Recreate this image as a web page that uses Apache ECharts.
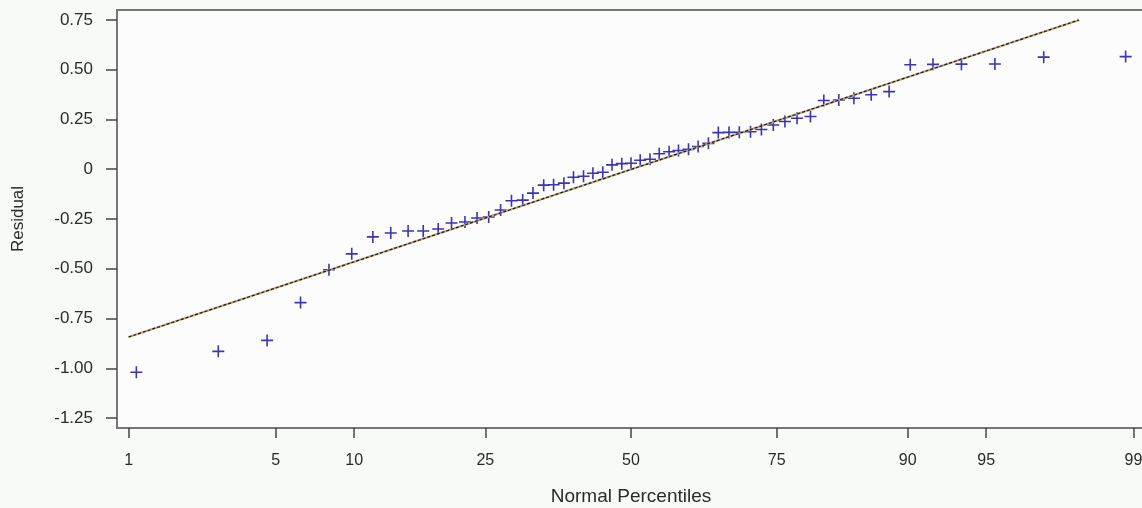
<!DOCTYPE html>
<html>
<head>
<meta charset="utf-8">
<script src="https://cdn.jsdelivr.net/npm/echarts@6/dist/echarts.min.js"></script>
<style>
  html, body { margin: 0; padding: 0; background: #f7faf6; }
  #main { width: 1142px; height: 508px; }
</style>
</head>
<body>
<div id="main"></div>
<script>
// x axis tick labels (normal percentiles) and y axis ticks
const tickPct = [1, 5, 10, 25, 50, 75, 90, 95, 99];
const residTicks = [-1.25, -1, -0.75, -0.5, -0.25, 0, 0.25, 0.5, 0.75];

// percentile of each plotted point
const pointPct = [
  1.1, 2.8, 4.6, 6.3, 8.1, 9.8, 11.6, 13.3, 15.1, 16.8,
  18.6, 20.3, 22.1, 23.8, 25.5, 27.3, 29.0, 30.8, 32.5, 34.3,
  36.0, 37.8, 39.5, 41.3, 43.0, 44.8, 46.5, 48.3, 50.0, 51.7,
  53.5, 55.2, 57.0, 58.7, 60.5, 62.2, 64.0, 65.7, 67.5, 69.2,
  71.0, 72.7, 74.5, 76.2, 77.9, 79.7, 81.4, 83.2, 84.9, 86.7,
  88.4, 90.2, 91.9, 93.7, 95.4, 97.2, 98.9
];
// residual of each point
const residuals = [
  -1.02, -0.915, -0.86, -0.67, -0.505, -0.425, -0.34, -0.32, -0.31, -0.31,
  -0.30, -0.27, -0.265, -0.245, -0.24, -0.205, -0.158, -0.155, -0.12, -0.08,
  -0.078, -0.07, -0.04, -0.035, -0.02, -0.015, 0.022, 0.028, 0.03, 0.045,
  0.05, 0.078, 0.088, 0.094, 0.10, 0.114, 0.13, 0.184, 0.185, 0.186,
  0.188, 0.20, 0.222, 0.24, 0.256, 0.265, 0.345, 0.348, 0.357, 0.374,
  0.39, 0.525, 0.527, 0.528, 0.529, 0.563, 0.566
];
// reference line end points
const fitPct = [1, 98.1];
const fitResid = [-0.843, 0.75];

// inverse normal CDF (Acklam), used as the probability-scale transform
function probit(p) {
  const a = [-39.69683028665376, 220.9460984245205, -275.9285104469687, 138.3577518672690, -30.66479806614716, 2.506628277459239];
  const b = [-54.47609879822406, 161.5858368580409, -155.6989798598866, 66.80131188771972, -13.28068155288572];
  const c = [-0.007784894002430293, -0.3223964580411365, -2.400758277161838, -2.549732539343734, 4.374664141464968, 2.938163982698783];
  const d = [0.007784695709041462, 0.3224671290700398, 2.445134137142996, 3.754408661907416];
  const pl = 0.02425;
  let q, r;
  if (p < pl) {
    q = Math.sqrt(-2 * Math.log(p));
    return (((((c[0]*q+c[1])*q+c[2])*q+c[3])*q+c[4])*q+c[5]) / ((((d[0]*q+d[1])*q+d[2])*q+d[3])*q+1);
  }
  if (p > 1 - pl) {
    q = Math.sqrt(-2 * Math.log(1 - p));
    return -(((((c[0]*q+c[1])*q+c[2])*q+c[3])*q+c[4])*q+c[5]) / ((((d[0]*q+d[1])*q+d[2])*q+d[3])*q+1);
  }
  q = p - 0.5; r = q * q;
  return (((((a[0]*r+a[1])*r+a[2])*r+a[3])*r+a[4])*r+a[5])*q / (((((b[0]*r+b[1])*r+b[2])*r+b[3])*r+b[4])*r+1);
}

const tickZ = tickPct.map(p => probit(p / 100));
const pctLabel = v => {
  let best = 0;
  tickZ.forEach((z, i) => { if (Math.abs(z - v) < Math.abs(tickZ[best] - v)) best = i; });
  return String(tickPct[best]);
};

const points = pointPct.map((p, i) => [probit(p / 100), residuals[i]]);
const fitLine = fitPct.map((p, i) => [probit(p / 100), fitResid[i]]);

const font = 'Liberation Sans, Arial, sans-serif';
const plus = 'path://M5.2,0H6.8V5.2H12V6.8H6.8V12H5.2V6.8H0V5.2H5.2Z';

const chart = echarts.init(document.getElementById('main'));
chart.setOption({
  animation: false,
  backgroundColor: '#f7faf6',
  grid: {
    left: 117, top: 10, width: 1028, height: 418,
    outerBoundsMode: 'none', containLabel: false,
    show: true, backgroundColor: '#fbfcfb', borderColor: '#777', borderWidth: 2
  },
  xAxis: {
    type: 'value', min: -2.38, max: 2.38,
    name: 'Normal Percentiles', nameLocation: 'middle', nameGap: 59,
    nameTextStyle: { fontFamily: font, fontSize: 19, color: '#2a2a2a' },
    axisLine: { onZero: false, lineStyle: { color: '#777', width: 2 } },
    axisTick: { customValues: tickZ, length: 10, lineStyle: { color: '#444', width: 1.5 } },
    axisLabel: { customValues: tickZ, formatter: pctLabel, margin: 25, fontFamily: font, fontSize: 16, color: '#2a2a2a' },
    splitLine: { show: false }
  },
  yAxis: {
    type: 'value', min: -1.3, max: 0.8,
    name: 'Residual', nameLocation: 'middle', nameGap: 90,
    nameTextStyle: { fontFamily: font, fontSize: 17, color: '#2a2a2a' },
    axisLine: { onZero: false, lineStyle: { color: '#777', width: 2 } },
    axisTick: { customValues: residTicks, length: 11, lineStyle: { color: '#444', width: 1.5 } },
    axisLabel: {
      customValues: residTicks, margin: 24, fontFamily: font, fontSize: 17, color: '#2a2a2a',
      padding: [5, 0, 0, 0],
      formatter: v => (Math.abs(v) < 1e-9 ? '0' : v.toFixed(2))
    },
    splitLine: { show: false }
  },
  series: [
    {
      type: 'line', data: fitLine, showSymbol: false, silent: true,
      lineStyle: { color: '#b9a57e', width: 2 }
    },
    {
      type: 'line', data: fitLine, showSymbol: false, silent: true,
      lineStyle: { color: '#1e1a16', width: 1.2, type: [3, 2] }
    },
    {
      type: 'scatter', data: points, symbol: plus, symbolSize: 12,
      itemStyle: { color: '#3d34b4', opacity: 1 }
    }
  ]
});
</script>
</body>
</html>
